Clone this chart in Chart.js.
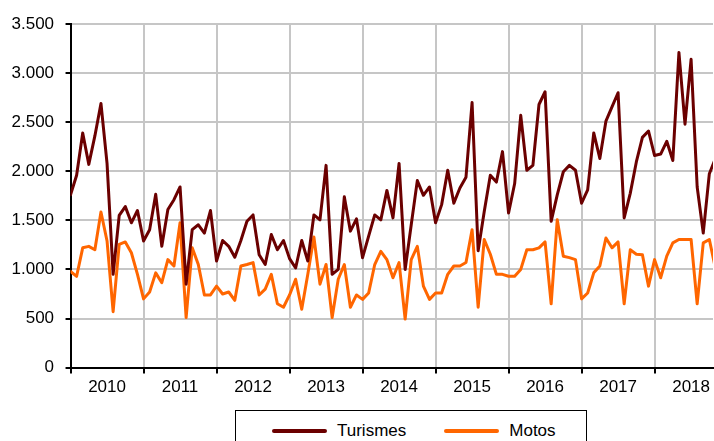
<!DOCTYPE html>
<html>
<head>
<meta charset="utf-8">
<script src="https://cdn.jsdelivr.net/npm/chart.js@4.4.0/dist/chart.umd.min.js"></script>
<style>
  html, body { margin: 0; padding: 0; background: #fff; overflow: hidden; }
  #wrap { position: relative; width: 714px; height: 441px; overflow: hidden; }
  #legend {
    position: absolute; left: 235px; top: 410px; width: 352px; height: 50px;
    box-sizing: border-box; border: 1px solid #000; background: #fff;
    padding: 7px 0 0 36px;
    font: 17px 'Liberation Sans', Arial, sans-serif; line-height: 20px; color: #000;
    white-space: nowrap;
  }
  .item { display: inline-flex; align-items: center; height: 20px; margin-right: 38px; }
  .swatch { display: inline-block; width: 55px; height: 4px; border-radius: 2px; margin-right: 10px; }
</style>
</head>
<body>
<div id="wrap">
  <canvas id="chart" width="714" height="441"></canvas>
  <div id="legend"></div>
</div>
<script>
// Monthly values, Jan 2010 onwards (index 0 = Jan 2010)
const years = ['2010', '2011', '2012', '2013', '2014', '2015', '2016', '2017', '2018'];

const turismes = [
  1760, 1960, 2390, 2070, 2360, 2690, 2080, 950, 1550, 1640, 1475, 1600,
  1290, 1405, 1765, 1235, 1610, 1710, 1840, 850, 1405, 1455, 1370, 1600,
  1085, 1295, 1235, 1125, 1295, 1490, 1555, 1150, 1050, 1355, 1200, 1295,
  1110, 1015, 1295, 1085, 1555, 1505, 2060, 950, 1000, 1740, 1390, 1515,
  1120, 1340, 1555, 1505, 1805, 1525, 2080, 1000, 1455, 1905, 1755, 1840,
  1475, 1660, 2010, 1675, 1830, 1940, 2700, 1190, 1590, 1960, 1890, 2200,
  1575, 1875, 2570, 2010, 2060, 2680, 2810, 1490, 1760, 1995, 2060, 2010,
  1675, 1810, 2390, 2130, 2510, 2655, 2800, 1525, 1775, 2095, 2345, 2410,
  2160, 2175, 2305, 2110, 3210, 2480, 3140, 1840, 1370, 1975, 2130
];

const motos = [
  980, 930, 1220, 1235, 1200, 1585, 1290, 570, 1255, 1280, 1170, 950,
  700, 770, 965, 865, 1100, 1035, 1475, 510, 1220, 1050, 740, 740,
  830, 750, 770, 685, 1035, 1050, 1070, 740, 800, 950, 650, 615,
  740, 900, 595, 950, 1330, 850, 1050, 510, 900, 1050, 615, 740,
  695, 760, 1050, 1185, 1100, 915, 1070, 495, 1100, 1235, 830, 695,
  760, 760, 950, 1035, 1035, 1070, 1405, 615, 1305, 1155, 950, 950,
  930, 930, 1000, 1200, 1200, 1220, 1280, 650, 1505, 1135, 1120, 1100,
  700, 760, 965, 1035, 1320, 1220, 1280, 650, 1200, 1155, 1150, 830,
  1100, 915, 1135, 1270, 1305, 1305, 1305, 650, 1270, 1305, 1010
];

const toPoints = arr => arr.map((v, i) => ({ x: i, y: v }));

// thousands with a dot: 3500 -> 3.500
function fmt(v) {
  return String(v).replace(/\B(?=(\d{3})+(?!\d))/g, '.');
}

const font = { family: "'Liberation Sans', Arial, sans-serif", size: 17 };
const gridGrey = '#c6c6c6';

const chart = new Chart(document.getElementById('chart'), {
  type: 'line',
  data: {
    datasets: [
      {
        label: 'Turismes',
        data: toPoints(turismes),
        borderColor: '#6b0000',
        backgroundColor: '#6b0000',
        borderWidth: 3,
        pointRadius: 0,
        tension: 0,
        borderJoinStyle: 'round',
        borderCapStyle: 'round',
        order: 1
      },
      {
        label: 'Motos',
        data: toPoints(motos),
        borderColor: '#ff6600',
        backgroundColor: '#ff6600',
        borderWidth: 3,
        pointRadius: 0,
        tension: 0,
        borderJoinStyle: 'round',
        borderCapStyle: 'round',
        order: 2
      }
    ]
  },
  options: {
    responsive: false,
    animation: false,
    events: [],
    layout: { padding: { left: 0, top: 24, right: 0, bottom: 39 } },
    plugins: {
      legend: { display: false },
      tooltip: { enabled: false }
    },
    scales: {
      x: {
        type: 'linear',
        min: 0,
        max: 105.6,
        afterBuildTicks: scale => {
          const ticks = [];
          for (let v = 0; v <= scale.max; v += 6) ticks.push({ value: v });
          scale.ticks = ticks;
        },
        ticks: {
          autoSkip: false,
          maxRotation: 0,
          padding: 4,
          color: '#000',
          font: font,
          callback: v => (v % 12 === 6 ? years[(v - 6) / 12] : '')
        },
        grid: {
          color: c => (c.tick && c.tick.value % 12 === 0 ? gridGrey : 'rgba(0,0,0,0)'),
          tickColor: c => (c.tick && c.tick.value % 12 === 0 ? '#000' : 'rgba(0,0,0,0)'),
          lineWidth: 2,
          tickWidth: 2,
          tickLength: 6
        },
        border: { color: '#000', width: 2 }
      },
      y: {
        min: 0,
        max: 3500,
        ticks: {
          stepSize: 500,
          padding: 11.5,
          color: '#000',
          font: font,
          callback: v => fmt(v)
        },
        grid: {
          color: gridGrey,
          tickColor: '#000',
          lineWidth: 2,
          tickWidth: 2,
          tickLength: 5
        },
        border: { color: '#000', width: 2 }
      }
    }
  }
});

// HTML legend built from the datasets
const legendEl = document.getElementById('legend');
chart.data.datasets.forEach(ds => {
  const item = document.createElement('span');
  item.className = 'item';
  const sw = document.createElement('span');
  sw.className = 'swatch';
  sw.style.background = ds.borderColor;
  item.appendChild(sw);
  item.appendChild(document.createTextNode(ds.label));
  legendEl.appendChild(item);
});
</script>
</body>
</html>
